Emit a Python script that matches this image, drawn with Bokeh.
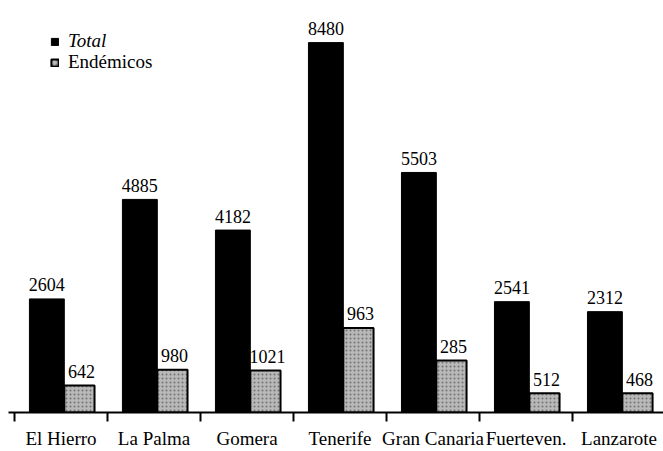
import numpy as np
from bokeh.plotting import figure
from bokeh.models import ColumnDataSource, FixedTicker, Legend, LegendItem, Range1d
from bokeh.core.properties import value
from bokeh.embed import file_html
from bokeh.resources import INLINE

islas = ["El Hierro", "La Palma", "Gomera", "Tenerife", "Gran Canaria", "Fuerteven.", "Lanzarote"]
total = [2604, 4885, 4182, 8480, 5503, 2541, 2312]
total_labels = ["2604", "4885", "4182", "8480", "5503", "2541", "2312"]
# heights of the "Endémicos" bars as drawn in the picture
endemicos = [620, 980, 960, 1940, 1190, 440, 440]
endemicos_labels = ["642", "980", "1021", "963", "285", "512", "468"]

FONT = "Liberation Serif"
centers = np.arange(len(islas)) + 0.5

src_t = ColumnDataSource(dict(x=centers - 0.152, top=total, lab=total_labels))
src_e = ColumnDataSource(dict(x=centers + 0.198, top=endemicos, lab=endemicos_labels))

p = figure(width=663, height=451, output_backend="svg", toolbar_location=None,
           x_range=Range1d(-0.0645, 6.978), y_range=Range1d(0, 9445),
           min_border_left=8, min_border_right=0, min_border_top=0, min_border_bottom=38)
p.outline_line_color = None
p.xgrid.visible = False
p.ygrid.visible = False
p.yaxis.visible = False

r_t = p.vbar(x="x", top="top", width=0.375, bottom=0, source=src_t,
             fill_color="black", line_color="black", line_width=1)
r_e = p.vbar(x="x", top="top", width=0.325, bottom=0, source=src_e,
             fill_color="#b8b8b8", line_color="black", line_width=2,
             hatch_pattern=".", hatch_color="#606060", hatch_scale=4, hatch_weight=1, hatch_alpha=0.8)

p.text(x="x", y="top", text="lab", source=src_t, text_align="center", text_baseline="alphabetic",
       y_offset=-14, text_font=value(FONT), text_font_size="18px", text_color="black")
p.text(x="x", y="top", text="lab", source=src_e, text_align="center", text_baseline="alphabetic",
       x_offset=2, y_offset=-14, text_font=value(FONT), text_font_size="18px", text_color="black")

ax = p.xaxis[0]
ax.ticker = FixedTicker(ticks=list(centers), minor_ticks=list(range(len(islas) + 1)))
ax.major_label_overrides = {float(c): n for c, n in zip(centers, islas)}
ax.major_tick_line_color = None
ax.major_tick_out = 0
ax.major_tick_in = 0
ax.minor_tick_line_color = "black"
ax.minor_tick_line_width = 2
ax.minor_tick_out = 9
ax.minor_tick_in = 0
ax.axis_line_color = "black"
ax.axis_line_width = 2
ax.major_label_standoff = 6
ax.major_label_text_font = FONT
ax.major_label_text_font_size = "19px"
ax.major_label_text_color = "black"

common = dict(glyph_width=9, glyph_height=9, label_height=18, label_standoff=9,
              padding=0, margin=0, spacing=0, border_line_color=None,
              background_fill_alpha=0, label_text_font=FONT, label_text_font_size="19px",
              label_text_color="black")
leg1 = Legend(items=[LegendItem(label="Total", renderers=[r_t])], location=(42, 360),
              label_text_font_style="italic", **common)
leg2 = Legend(items=[LegendItem(label="Endémicos", renderers=[r_e])], location=(42, 339),
              **common)
p.add_layout(leg1)
p.add_layout(leg2)

open("out.html", "w").write(file_html(p, INLINE))
